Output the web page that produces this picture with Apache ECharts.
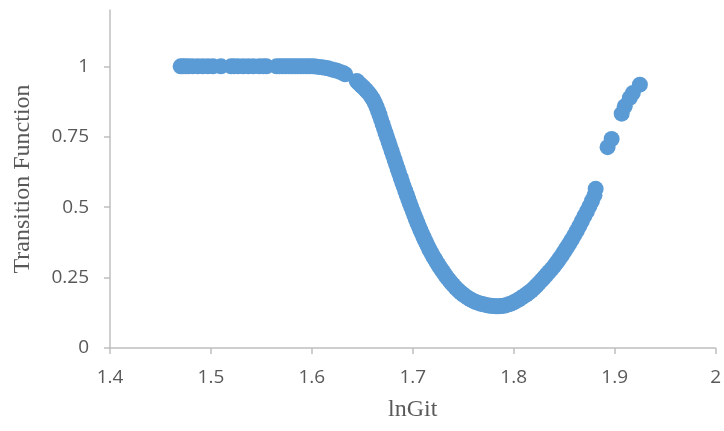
<!DOCTYPE html>
<html>
<head>
<meta charset="utf-8">
<script src="https://cdn.jsdelivr.net/npm/echarts@6/dist/echarts.min.js"></script>
<style>
html, body { margin: 0; padding: 0; background: #fff; }
#chart { width: 724px; height: 431px; }
</style>
</head>
<body>
<div id="chart"></div>
<script>
"use strict"

// lnGit values (x) and transition function values (y)
const lnGit = [
    1.470, 1.472, 1.475, 1.478, 1.482, 1.487, 1.492, 1.497, 1.502, 1.510,
    1.520, 1.523, 1.527, 1.532, 1.537, 1.542, 1.548, 1.552, 1.555, 1.565,
    1.568, 1.571, 1.574, 1.577, 1.580, 1.583, 1.586, 1.589, 1.592, 1.595,
    1.598, 1.601, 1.604, 1.607, 1.610, 1.613, 1.616, 1.619, 1.622, 1.625,
    1.628, 1.631, 1.633,
    1.6445, 1.6460, 1.6475, 1.6490, 1.6505, 1.6520, 1.6535, 1.6550, 1.6565, 1.6580,
    1.6595, 1.6610, 1.6625, 1.6640, 1.6655, 1.6670, 1.6685, 1.6700, 1.6715, 1.6730,
    1.6745, 1.6760, 1.6775, 1.6790, 1.6805, 1.6820, 1.6835, 1.6850, 1.6865, 1.6880,
    1.6895, 1.6910, 1.6925, 1.6940, 1.6955, 1.6970, 1.6985, 1.7000, 1.7015, 1.7030,
    1.7045, 1.7060, 1.7075, 1.7090, 1.7105, 1.7120, 1.7135, 1.7150, 1.7165, 1.7180,
    1.7195, 1.7210, 1.7225, 1.7240, 1.7255, 1.7270, 1.7285, 1.7300, 1.7320, 1.7340,
    1.7360, 1.7380, 1.7400, 1.7425, 1.7450, 1.7475, 1.7500, 1.7525, 1.7550, 1.7575,
    1.7600, 1.7625, 1.7650, 1.7675, 1.7700, 1.7725, 1.7750, 1.7775, 1.7800, 1.7825,
    1.7850, 1.7875, 1.7900, 1.7925, 1.7950, 1.7975, 1.8000, 1.8025, 1.8050, 1.8075,
    1.8100, 1.8125, 1.8150, 1.8175, 1.8200, 1.8225, 1.8250, 1.8275, 1.8300, 1.8325,
    1.8350, 1.8375, 1.8400, 1.8425, 1.8450, 1.8475, 1.8500, 1.8525, 1.8550, 1.8575,
    1.8600, 1.8625, 1.8650, 1.8675, 1.8700, 1.8725, 1.8750, 1.8775, 1.8800, 1.8812,
    1.893, 1.897, 1.907, 1.910, 1.915, 1.918, 1.925
];
const transFn = [
    1.000, 1.000, 1.000, 1.000, 1.000, 1.000, 1.000, 1.000, 1.000, 1.000,
    1.000, 1.000, 1.000, 1.000, 1.000, 1.000, 1.000, 1.000, 1.000, 1.000,
    1.000, 1.000, 1.000, 1.000, 1.000, 1.000, 1.000, 1.000, 1.000, 1.000,
    1.000, 1.000, 0.999, 0.998, 0.997, 0.995, 0.993, 0.990, 0.987, 0.984,
    0.980, 0.976, 0.972,
    0.948, 0.942, 0.937, 0.932, 0.927, 0.922, 0.916, 0.910, 0.904, 0.897,
    0.889, 0.880, 0.869, 0.857, 0.843, 0.828, 0.812, 0.796, 0.780, 0.764,
    0.748, 0.732, 0.716, 0.700, 0.684, 0.668, 0.652, 0.636, 0.620, 0.605,
    0.589, 0.574, 0.559, 0.544, 0.529, 0.514, 0.500, 0.486, 0.472, 0.458,
    0.445, 0.432, 0.419, 0.407, 0.395, 0.383, 0.372, 0.361, 0.350, 0.340,
    0.330, 0.321, 0.312, 0.303, 0.294, 0.286, 0.278, 0.270, 0.260, 0.250,
    0.241, 0.232, 0.224, 0.214, 0.205, 0.197, 0.190, 0.183, 0.177, 0.172,
    0.167, 0.163, 0.160, 0.157, 0.155, 0.153, 0.151, 0.150, 0.149, 0.148,
    0.148, 0.149, 0.150, 0.152, 0.155, 0.158, 0.162, 0.167, 0.172, 0.178,
    0.184, 0.190, 0.197, 0.204, 0.212, 0.221, 0.230, 0.240, 0.250, 0.260,
    0.270, 0.280, 0.291, 0.303, 0.315, 0.328, 0.342, 0.356, 0.370, 0.385,
    0.400, 0.416, 0.433, 0.450, 0.468, 0.485, 0.503, 0.522, 0.542, 0.565,
    0.713, 0.742, 0.832, 0.858, 0.888, 0.905, 0.935
];
const yTicks = [0, 0.25, 0.5, 0.75, 1];

const textGray = "#595959";
const lineGray = "#bfbfbf";

const myChart = echarts.init(document.getElementById("chart"), null, { renderer: "canvas" });
const option = {
    animation: false,
    grid: { left: 110, right: 6, top: 10, bottom: 83 },
    xAxis: {
        type: "value",
        min: 1.4,
        max: 2,
        interval: 0.1,
        name: "lnGit",
        nameLocation: "middle",
        nameGap: 50,
        nameTextStyle: { fontFamily: "Liberation Serif", fontSize: 24, color: textGray },
        axisLine: { show: true, lineStyle: { color: lineGray, width: 1.5 } },
        axisTick: { show: true, length: 6, lineStyle: { color: lineGray, width: 1.5 } },
        axisLabel: {
            margin: 20,
            fontFamily: "Open Sans",
            fontSize: 19,
            color: textGray,
            formatter: val => +val.toFixed(1) + ""
        },
        splitLine: { show: false }
    },
    yAxis: {
        type: "value",
        min: 0,
        max: 1.2,
        name: "Transition Function",
        nameLocation: "middle",
        nameGap: 75,
        nameTextStyle: { fontFamily: "Liberation Serif", fontSize: 24, color: textGray },
        axisLine: { show: true, lineStyle: { color: lineGray, width: 1.5 } },
        axisTick: { show: true, length: 6, customValues: yTicks, lineStyle: { color: lineGray, width: 1.5 } },
        axisLabel: {
            margin: 21,
            fontFamily: "Open Sans",
            fontSize: 19,
            color: textGray,
            customValues: yTicks
        },
        splitLine: { show: false }
    },
    series: [{
        type: "scatter",
        symbol: "circle",
        symbolSize: 16,
        itemStyle: { color: "#5b9bd5", opacity: 1 },
        data: lnGit.map((x, i) => [x, transFn[i]])
    }]
};
myChart.setOption(option);
</script>
</body>
</html>
